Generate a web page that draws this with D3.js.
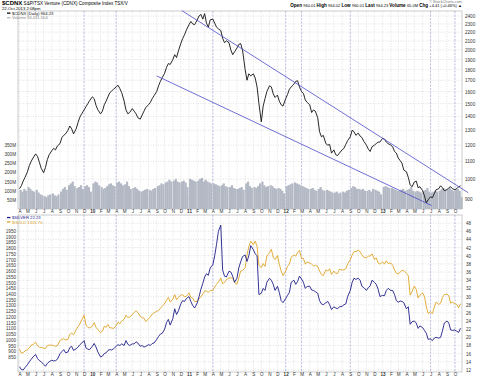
<!DOCTYPE html>
<html lang="en">
<head>
<meta charset="utf-8">
<title>$CDNX with $SILVER and $GOLD</title>
<script src="https://cdnjs.cloudflare.com/ajax/libs/d3/7.8.5/d3.min.js"></script>
<style>
  body { margin: 0; background: #fff; }
  #chart text { font-family: "Liberation Sans", Arial, sans-serif; }
  .grid line { stroke: #cfcfcf; stroke-width: 0.6; stroke-dasharray: 1,1.5; }
  .axis text { font-size: 4.6px; fill: #333; }
  .axis path, .axis line { display: none; }
</style>
</head>
<body>
<div id="chart"></div>
<script>
"use strict"

// four readings per month (1st, 8th, 15th, 22nd), Apr 2009 .. Oct 2013
const cdnx = [
  950, 965, 990, 1010,  1040, 1075, 1100, 1120,  1145, 1130, 1095, 1060,
  1035, 1065, 1110, 1140,  1165, 1180, 1170, 1195,  1210, 1250, 1265, 1275,
  1300, 1330, 1310, 1275,  1310, 1355, 1395, 1420,  1450, 1475, 1500, 1525,
  // 2010
  1555, 1540, 1485, 1450,  1420, 1440, 1490, 1520,  1555, 1590, 1605, 1620,
  1640, 1655, 1625, 1590,  1520, 1450, 1420, 1430,  1460, 1440, 1420, 1390,
  1380, 1410, 1440, 1470,  1490, 1510, 1540, 1565,  1600, 1650, 1690, 1725,
  1765, 1820, 1860, 1850,  1900, 1950, 1920, 1990,  2070, 2125, 2170, 2225,
  // 2011
  2290, 2330, 2300, 2290,  2350, 2400, 2420, 2360,  2430, 2310, 2260, 2350,
  2360, 2310, 2260, 2240,  2220, 2130, 2080, 2100,  2080, 2000, 1950, 1980,
  2020, 2060, 2070, 2000,  1800, 1700, 1760, 1740,  1760, 1720, 1640, 1500,
  1360, 1480, 1540, 1600,  1650, 1640, 1580, 1550,  1570, 1520, 1490, 1480,
  // 2012
  1540, 1575, 1620, 1640,  1665, 1690, 1695, 1640,  1600, 1585, 1530, 1510,
  1490, 1430, 1450, 1440,  1390, 1290, 1255, 1265,  1210, 1200, 1205, 1150,
  1170, 1140, 1135, 1150,  1170, 1180, 1205, 1230,  1255, 1300, 1290, 1265,
  1280, 1260, 1250, 1225,  1200, 1175, 1160, 1190,  1200, 1210, 1220, 1220,
  // 2013
  1245, 1240, 1220, 1210,  1200, 1190, 1160, 1150,  1120, 1105, 1090, 1050,
  1040, 1010, 970, 960,  985, 990, 955, 960,  940, 915, 880, 895,
  910, 905, 925, 945,  950, 965, 955, 940,  945, 955, 960, 950,
  945, 950, 960, 964.23
];

// millions of shares
const volume = [
  105, 95, 110, 100,  120, 110, 100, 95,  105, 90, 80, 75,
  70, 65, 75, 80,  85, 75, 70, 80,  95, 110, 120, 105,
  130, 140, 150, 125,  115, 120, 130, 110,  125, 130, 120, 95,
  140, 150, 145, 130,  120, 110, 115, 125,  135, 140, 130, 125,
  145, 150, 140, 130,  135, 150, 125, 110,  115, 120, 110, 100,
  95, 100, 105, 110,  105, 100, 110, 115,  125, 130, 140, 135,
  145, 150, 160, 150,  155, 165, 150, 145,  150, 155, 145, 120,
  165, 160, 155, 150,  155, 165, 170, 150,  160, 150, 145, 140,
  140, 135, 130, 125,  130, 140, 125, 120,  120, 130, 115, 110,
  110, 115, 120, 105,  140, 150, 125, 115,  120, 115, 125, 140,
  150, 130, 120, 125,  130, 125, 115, 110,  115, 110, 100, 85,
  125, 130, 135, 140,  145, 140, 135, 130,  125, 120, 115, 110,
  110, 115, 105, 100,  110, 120, 105, 100,  105, 100, 95, 90,
  90, 95, 85, 90,  95, 90, 100, 105,  115, 125, 120, 110,
  110, 105, 110, 100,  100, 105, 95, 110,  105, 100, 95, 80,
  120, 125, 120, 115,  115, 110, 105, 100,  100, 105, 110, 100,
  105, 110, 120, 100,  95, 100, 95, 90,  100, 105, 115, 95,
  90, 95, 100, 95,  100, 110, 115, 105,  110, 115, 105, 100,
  105, 110, 100, 65
];

const silver = [
  12.8, 12.1, 12.0, 12.6,  13.3, 14.0, 14.6, 15.2,  15.8, 14.8, 14.3, 14.0,
  13.4, 12.9, 13.6, 14.0,  14.4, 14.2, 14.3, 14.6,  16.0, 16.5, 17.0, 16.2,
  16.4, 17.5, 17.8, 16.8,  17.2, 17.6, 18.2, 18.6,  19.2, 17.4, 17.1, 17.0,
  17.8, 18.5, 17.6, 16.4,  15.2, 15.4, 16.0, 16.2,  16.8, 17.0, 16.9, 17.2,
  17.8, 18.2, 18.0, 18.4,  18.0, 19.2, 18.3, 18.0,  18.4, 18.4, 18.9, 18.6,
  17.8, 18.0, 17.6, 17.8,  18.2, 18.0, 18.5, 18.6,  19.5, 20.2, 20.8, 21.0,
  22.0, 23.6, 24.4, 23.0,  24.6, 27.0, 25.6, 26.5,  28.2, 29.0, 28.8, 29.5,
  30.0, 28.8, 27.8, 27.2,  28.4, 30.0, 31.8, 33.2,  34.8, 35.6, 35.2, 37.0,
  37.8, 40.0, 42.8, 46.0,  47.5, 36.5, 35.0, 34.8,  36.2, 36.0, 35.0, 33.5,
  34.5, 37.0, 38.5, 39.8,  40.2, 38.6, 40.0, 42.5,  41.5, 40.5, 40.0, 30.5,
  30.8, 32.0, 31.5, 33.5,  34.5, 34.0, 33.0, 31.5,  32.5, 31.0, 29.0, 28.5,
  29.5, 30.3, 31.0, 33.5,  34.0, 33.0, 33.7, 35.0,  34.3, 33.5, 32.0, 32.5,
  32.5, 31.6, 31.5, 31.2,  30.8, 29.0, 28.2, 28.0,  28.5, 28.8, 28.0, 26.8,
  27.5, 27.2, 27.0, 27.5,  27.6, 28.0, 28.2, 30.0,  31.5, 33.5, 34.5, 34.2,
  34.5, 34.0, 32.5, 32.2,  31.5, 32.2, 32.6, 34.0,  33.5, 33.0, 31.8, 30.0,
  30.3, 30.2, 31.5, 32.0,  31.5, 31.5, 30.5, 29.0,  28.6, 28.9, 28.8, 28.5,
  27.0, 27.5, 23.2, 23.8,  24.0, 23.5, 22.2, 22.8,  22.4, 21.7, 21.0, 19.5,
  19.6, 19.2, 19.8, 20.0,  19.8, 20.0, 21.6, 23.5,  24.0, 23.5, 21.8, 21.7,
  21.8, 21.5, 21.2, 22.23
];

const gold = [
  920, 885, 890, 905,  915, 930, 955, 960,  980, 950, 935, 935,
  930, 925, 950, 955,  955, 950, 945, 950,  995, 1005, 1010, 1000,
  1005, 1050, 1060, 1045,  1090, 1115, 1140, 1175,  1215, 1130, 1110, 1105,
  1120, 1150, 1110, 1090,  1065, 1075, 1120, 1110,  1135, 1105, 1105, 1100,
  1125, 1155, 1140, 1165,  1180, 1215, 1195, 1200,  1220, 1240, 1255, 1240,
  1205, 1195, 1190, 1160,  1185, 1200, 1225, 1235,  1250, 1255, 1275, 1295,
  1315, 1345, 1370, 1330,  1355, 1395, 1350, 1370,  1390, 1395, 1375, 1380,
  1410, 1370, 1365, 1335,  1335, 1360, 1375, 1400,  1425, 1425, 1415, 1430,
  1430, 1460, 1485, 1505,  1540, 1490, 1500, 1525,  1540, 1540, 1540, 1500,
  1485, 1540, 1600, 1605,  1630, 1740, 1815, 1860,  1830, 1860, 1815, 1650,
  1630, 1665, 1640, 1730,  1760, 1790, 1720, 1700,  1735, 1660, 1600, 1560,
  1600, 1640, 1660, 1720,  1740, 1730, 1760, 1780,  1710, 1710, 1660, 1680,
  1670, 1660, 1645, 1650,  1640, 1600, 1570, 1560,  1610, 1600, 1620, 1570,
  1600, 1580, 1580, 1615,  1610, 1610, 1620, 1660,  1700, 1740, 1770, 1770,
  1780, 1770, 1740, 1720,  1715, 1730, 1730, 1750,  1700, 1715, 1670, 1660,
  1680, 1660, 1690, 1665,  1670, 1650, 1610, 1580,  1575, 1590, 1605, 1605,
  1580, 1560, 1390, 1420,  1470, 1440, 1365, 1390,  1410, 1380, 1290, 1230,
  1245, 1230, 1285, 1330,  1310, 1320, 1370, 1395,  1400, 1385, 1320, 1330,
  1315, 1310, 1280, 1315.7
];

const monthLetters = ["J", "F", "M", "A", "M", "J", "J", "A", "S", "O", "N", "D"];
const priceTicks = d3.range(900, 2401, 100);
const volumeTicks = [50, 100, 150, 200, 250, 300, 350];
const goldTicks = d3.range(850, 1951, 50);
const silverTicks = d3.range(12, 49, 2);
const markerDates = [new Date(2009, 11, 1), new Date(2010, 3, 1), new Date(2011, 3, 1),
  new Date(2012, 0, 1), new Date(2012, 2, 1), new Date(2012, 8, 1),
  new Date(2013, 6, 1), new Date(2013, 9, 1)];
const trendUpper = [[new Date(2010, 11, 5), 2470], [new Date(2013, 10, 20), 930]];
const trendLower = [[new Date(2010, 8, 1), 1740], [new Date(2013, 6, 5), 868]];

const dates = cdnx.map((d, i) => new Date(2009, 3 + Math.floor(i / 4), 1 + 7 * (i % 4)));
const months = d3.timeMonth.range(new Date(2009, 3, 1), new Date(2013, 9, 2));

const W = 480, H = 380;
const left = 18, right = 462;
const top1 = 11, bot1 = 209, top2 = 215, bot2 = 372;

const svg = d3.select("#chart").append("svg")
  .attr("width", W).attr("height", H);

const x = d3.scaleTime()
  .domain([new Date(2009, 3, 1), new Date(2013, 9, 24)])
  .range([19.5, 461]);
const yPrice = d3.scaleLog().domain([852, 2465]).range([bot1, top1]);
const yVol = d3.scaleLinear().domain([0, 350]).range([bot1, 145]);
const yGold = d3.scaleLinear().domain([721, 2088]).range([bot2, top2]);
const ySilver = d3.scaleLinear().domain([11.5, 50]).range([bot2, top2]);

// ---- header ----
const head = svg.append("text").attr("x", 2).attr("y", 5.3).style("font-size", "4.6px");
head.append("tspan").style("font-weight", "bold").style("font-size", "6px").text("$CDNX");
head.append("tspan").text(" S&P/TSX Venture (CDNX) Composite Index  TSX/V");
svg.append("text").attr("x", 2).attr("y", 9.8).style("font-size", "4.2px").text("22-Oct-2013 2:08pm");
svg.append("text").attr("x", right).attr("y", 2.8).attr("text-anchor", "end")
  .style("font-size", "3.8px").style("fill", "#777").text("© StockCharts.com");

const ohlc = [["Open", "960.01"], ["High", "964.02"], ["Low", "960.01"], ["Last", "964.23"],
  ["Volume", "65.0M"], ["Chg", "+4.41 (+0.46%) \u25B2"]];
const hr = svg.append("text").attr("x", right).attr("y", 6.5).attr("text-anchor", "end")
  .style("font-size", "4.6px");
ohlc.forEach(([k, v]) => {
  hr.append("tspan").style("font-weight", "bold").text(" " + k + " ");
  hr.append("tspan").style("font-size", "4px").text(v + " ");
});

// ---- panel frames & grids ----
function panel(y0, y1, ticks, yScale) {
  const g = svg.append("g").attr("class", "grid");
  g.selectAll(".h").data(ticks).enter().append("line")
    .attr("x1", left).attr("x2", right)
    .attr("y1", d => yScale(d)).attr("y2", d => yScale(d));
  g.selectAll(".v").data(months).enter().append("line")
    .attr("x1", d => x(d)).attr("x2", d => x(d))
    .attr("y1", y0).attr("y2", y1);
  svg.append("g").selectAll("line").data(markerDates).enter().append("line")
    .attr("x1", d => x(d)).attr("x2", d => x(d))
    .attr("y1", y0).attr("y2", y1)
    .attr("stroke", "#9aa0dc").attr("stroke-width", 0.6).attr("stroke-dasharray", "2,1.5");
  svg.append("rect").attr("x", left).attr("y", y0)
    .attr("width", right - left).attr("height", y1 - y0)
    .attr("fill", "none").attr("stroke", "#aaa").attr("stroke-width", 0.6);
}
panel(top1, bot1, priceTicks, yPrice);
panel(top2, bot2, silverTicks, ySilver);

// ---- volume ----
svg.append("g").selectAll("rect").data(volume).enter().append("rect")
  .attr("x", (d, i) => x(dates[i]))
  .attr("width", 2.2)
  .attr("y", d => yVol(d))
  .attr("height", d => bot1 - yVol(d))
  .attr("fill", "#b3b9c4");

// ---- price line ----
svg.append("path")
  .datum(cdnx)
  .attr("fill", "none").attr("stroke", "#111").attr("stroke-width", 0.9)
  .attr("d", d3.line().x((d, i) => x(dates[i])).y(d => yPrice(d)));

// trend lines
[trendUpper, trendLower].forEach(t => {
  svg.append("line")
    .attr("x1", x(t[0][0])).attr("y1", yPrice(t[0][1]))
    .attr("x2", x(t[1][0])).attr("y2", yPrice(t[1][1]))
    .attr("stroke", "#4b4bc8").attr("stroke-width", 0.8);
});

// ---- gold & silver ----
svg.append("path")
  .datum(gold)
  .attr("fill", "none").attr("stroke", "#e0a526").attr("stroke-width", 0.9)
  .attr("d", d3.line().x((d, i) => x(dates[i])).y(d => yGold(d)));
svg.append("path")
  .datum(silver)
  .attr("fill", "none").attr("stroke", "#1d1d8a").attr("stroke-width", 0.9)
  .attr("d", d3.line().x((d, i) => x(dates[i])).y(d => ySilver(d)));

// ---- legends ----
function legend(y, col, label, txtCol) {
  svg.append("rect").attr("x", 7).attr("y", y - 2.3).attr("width", 3.5).attr("height", 1.3).attr("fill", col);
  svg.append("text").attr("x", 12).attr("y", y).style("font-size", "4.2px")
    .style("fill", txtCol).text(label);
}
legend(14.8, "#111", "$CDNX (Daily) 964.23", "#111");
legend(19.4, "#b3b9c4", "Volume 65,011,504", "#888");
legend(219.2, "#1d1d8a", "$SILVER  22.23", "#1d1d8a");
legend(223.6, "#e0a526", "$GOLD  1315.70", "#d39a1e");

// ---- axes ----
svg.append("g").attr("class", "axis").attr("transform", `translate(${right},0)`)
  .call(d3.axisRight(yPrice).tickValues(priceTicks).tickFormat(d3.format("d")).tickSize(0).tickPadding(3));
svg.append("g").attr("class", "axis").attr("transform", `translate(${left},0)`)
  .call(d3.axisLeft(yVol).tickValues(volumeTicks).tickFormat(d => d + "M").tickSize(0).tickPadding(2));
svg.append("g").attr("class", "axis").attr("transform", `translate(${left},0)`)
  .call(d3.axisLeft(yGold).tickValues(goldTicks).tickFormat(d3.format("d")).tickSize(0).tickPadding(2));
svg.append("g").attr("class", "axis").attr("transform", `translate(${right},0)`)
  .call(d3.axisRight(ySilver).tickValues(silverTicks).tickFormat(d3.format("d")).tickSize(0).tickPadding(4));

function monthAxis(yPos) {
  const g = svg.append("g").attr("class", "axis").attr("transform", `translate(0,${yPos})`)
    .call(d3.axisBottom(x).tickValues(months).tickSize(0).tickPadding(1.2)
      .tickFormat(d => d.getMonth() === 0 ? d3.timeFormat("%y")(d) : monthLetters[d.getMonth()]));
  g.selectAll("text").filter(d => d.getMonth() === 0).style("font-weight", "bold");
}
monthAxis(bot1);
monthAxis(bot2);
</script>
</body>
</html>
